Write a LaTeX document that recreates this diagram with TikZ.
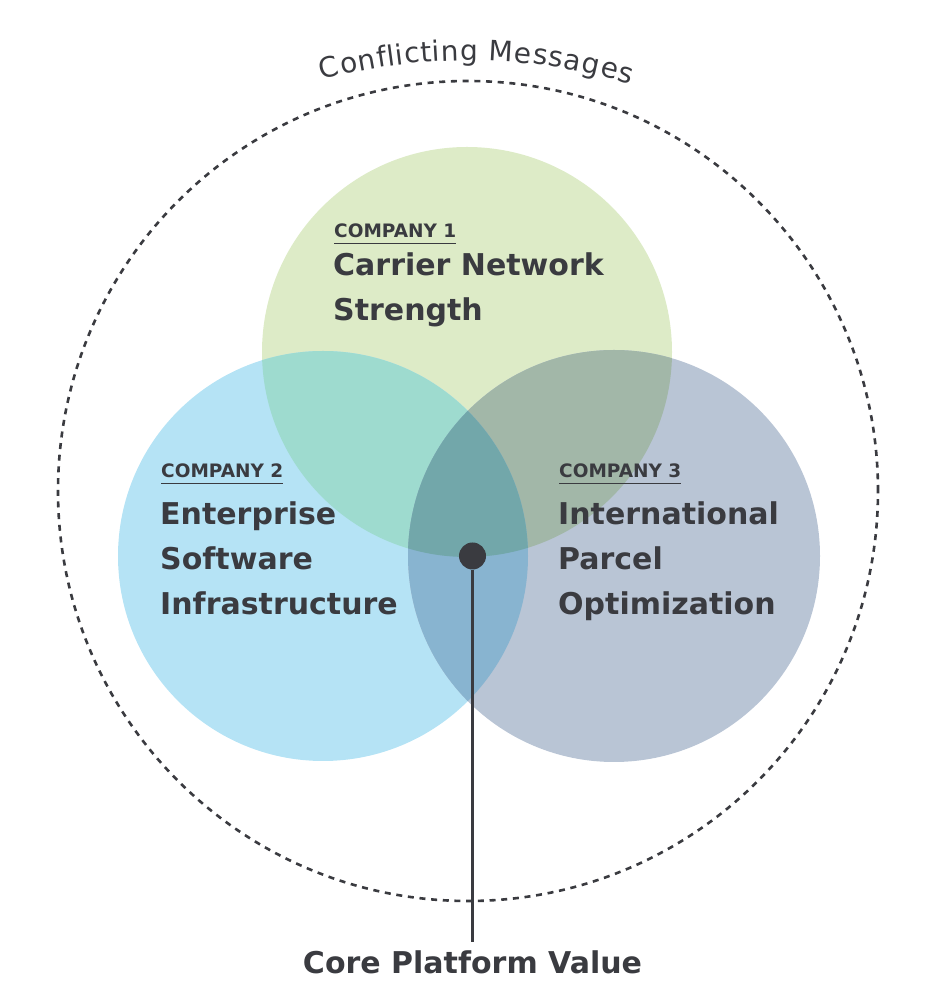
\documentclass[tikz,border=0pt]{standalone}
\usepackage{fontspec}
\setmainfont{DejaVu Sans}
\usetikzlibrary{decorations.text}
\definecolor{ink}{HTML}{3A3B40}
\definecolor{greenfill}{HTML}{DDEBC7}
\definecolor{bluefill}{HTML}{B5E3F5}
\definecolor{greyfill}{HTML}{B9C5D5}
\definecolor{greenblue}{HTML}{9EDBCF}
\definecolor{greengrey}{HTML}{A2B7A8}
\definecolor{bluegrey}{HTML}{88B4D0}
\definecolor{coreteal}{HTML}{72A7AA}
\tikzset{
	tag/.style={anchor=base west,inner xsep=0pt,inner ysep=5pt,text=ink,font=\bfseries\fontsize{18.5}{20}\selectfont},
	tagline/.style={color=ink,line width=1.5pt,line cap=butt},
	headline/.style={anchor=base west,align=left,inner sep=0pt,text=ink,font=\bfseries\fontsize{30}{45}\selectfont},
}

\begin{document}
\begin{tikzpicture}[line cap=round,line join=round,x=1pt,y=1pt]
	\useasboundingbox (0,0) rectangle (938,988);
	\coordinate (c0) at (468,497);
	\coordinate (c1) at (467,636);
	\coordinate (c2) at (323,432);
	\coordinate (c3) at (614,432);
	\draw[color=ink,line width=2.6pt,line cap=butt,dash pattern=on 6pt off 5.7pt] (c0) circle (410);
	\path[decorate,decoration={text effects along path,text={Conflicting Messages},text effects/.cd,text along path,fit text to path,characters={text=ink,font=\fontsize{28}{28}\selectfont}}] (322,908) arc[start angle=105.2,end angle=73.2,radius=560];
	\fill[color=greenfill] (c1) circle (205);
	\fill[color=bluefill] (c2) circle (205);
	\fill[color=greyfill] (c3) circle (206);
	\begin{scope}
	\clip (c1) circle (205);
	\fill[color=greenblue] (c2) circle (205);
	\fill[color=greengrey] (c3) circle (206);
	\end{scope}
	\begin{scope}
	\clip (c2) circle (205);
	\fill[color=bluegrey] (c3) circle (206);
	\clip (c1) circle (205);
	\fill[color=coreteal] (c3) circle (206);
	\end{scope}
	\node[tag] (tag1) at (334,750) {COMPANY 1};
	\draw[tagline] (tag1.south west) -- (tag1.south east);
	\node[headline] (head1) at (333,667) {Carrier Network\\Strength};
	\node[tag] (tag2) at (161,510) {COMPANY 2};
	\draw[tagline] (tag2.south west) -- (tag2.south east);
	\node[headline] (head2) at (160,373) {Enterprise\\Software\\Infrastructure};
	\node[tag] (tag3) at (559,510) {COMPANY 3};
	\draw[tagline] (tag3.south west) -- (tag3.south east);
	\node[headline] (head3) at (558,373) {International\\Parcel\\Optimization};
	\node[circle,fill=ink,inner sep=0pt,minimum size=27pt] (core) at (472.5,432) {};
	\node[anchor=base,inner sep=9pt,text=ink,font=\bfseries\fontsize{30}{36}\selectfont] (corelabel) at (472.5,14) {Core Platform Value};
	\draw[color=ink,line width=3pt,line cap=butt] (core) -- (corelabel);
\end{tikzpicture}
\end{document}
